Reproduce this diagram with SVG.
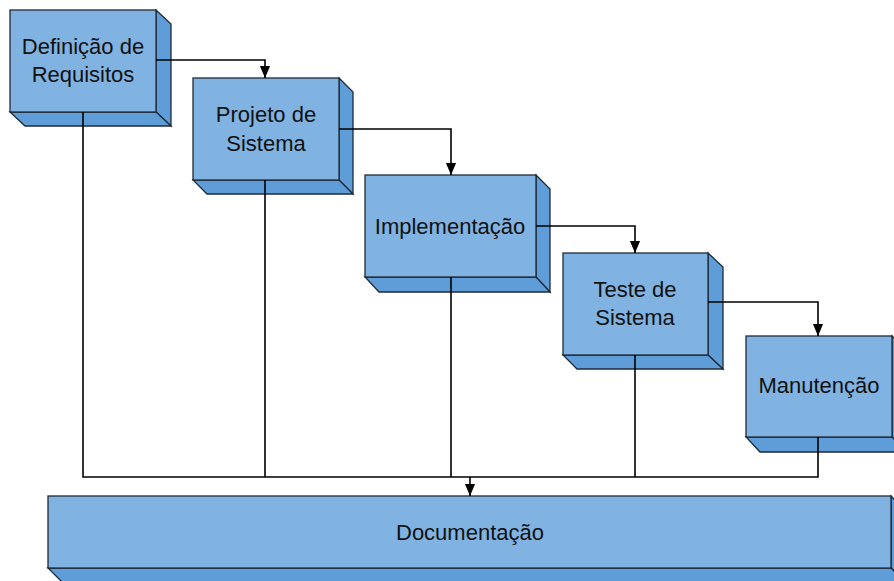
<svg xmlns="http://www.w3.org/2000/svg" width="894" height="581" viewBox="0 0 894 581">
<style>
.front{fill:#80B3E1;stroke:#1f2a36;stroke-width:1.3}
.side{fill:#5E9DD8;stroke:#1f2a36;stroke-width:1.3;stroke-linejoin:miter}
.lbl{font-family:"Liberation Sans",Arial,sans-serif;font-size:22px;fill:#111;text-anchor:middle}
.conn{fill:none;stroke:#000;stroke-width:1.6}
</style>
<defs>
<marker id="arr" markerUnits="userSpaceOnUse" markerWidth="12" markerHeight="13" viewBox="0 0 13 12" refX="13" refY="6" orient="auto">
<path d="M0,0.5 L13,6 L0,11.5 z" fill="#000"/>
</marker>
</defs>
<rect width="894" height="581" fill="#fff"/>
<g id="n1">
<polygon class="side" points="156,10 171,24 171,126 156,112"/>
<polygon class="side" points="10,112 156,112 171,126 25,126"/>
<rect class="front" x="10" y="10" width="146" height="102"/>
<text class="lbl" x="83" y="54">Definição de</text>
<text class="lbl" x="83" y="82">Requisitos</text>
</g>
<g id="n2">
<polygon class="side" points="339,78 353,92 353,194 339,180"/>
<polygon class="side" points="193,180 339,180 353,194 207,194"/>
<rect class="front" x="193" y="78" width="146" height="102"/>
<text class="lbl" x="266" y="122">Projeto de</text>
<text class="lbl" x="266" y="151">Sistema</text>
</g>
<g id="n3">
<polygon class="side" points="536,175 550,189 550,292 536,277"/>
<polygon class="side" points="365,277 536,277 550,292 379,292"/>
<rect class="front" x="365" y="175" width="171" height="102"/>
<text class="lbl" x="450" y="234">Implementação</text>
</g>
<g id="n4">
<polygon class="side" points="708,253 723,267 723,369 708,355"/>
<polygon class="side" points="563,355 708,355 723,369 577,369"/>
<rect class="front" x="563" y="253" width="145" height="102"/>
<text class="lbl" x="635" y="297">Teste de</text>
<text class="lbl" x="635" y="325">Sistema</text>
</g>
<g id="n5">
<polygon class="side" points="892,336 907,350 907,452 892,437"/>
<polygon class="side" points="746,437 892,437 907,452 760,452"/>
<rect class="front" x="746" y="336" width="146" height="101"/>
<text class="lbl" x="819" y="393">Manutenção</text>
</g>
<g id="n6">
<polygon class="side" points="891,496 905,510 905,582 891,568"/>
<polygon class="side" points="48,568 891,568 905,582 62,582"/>
<rect class="front" x="48" y="496" width="843" height="72"/>
<text class="lbl" x="470" y="540">Documentação</text>
</g>
<g id="connectors">
<polyline class="conn" points="156,60 265,60 265,78" marker-end="url(#arr)"/>
<polyline class="conn" points="339,129 451,129 451,175" marker-end="url(#arr)"/>
<polyline class="conn" points="536,226 635,226 635,253" marker-end="url(#arr)"/>
<polyline class="conn" points="708,302 818,302 818,336" marker-end="url(#arr)"/>
<polyline class="conn" points="83,112 83,477 818,477 818,437"/>
<line class="conn" x1="265" y1="180" x2="265" y2="477"/>
<line class="conn" x1="451" y1="277" x2="451" y2="477"/>
<line class="conn" x1="635" y1="355" x2="635" y2="477"/>
<line class="conn" x1="470" y1="477" x2="470" y2="496" marker-end="url(#arr)"/>
</g>
</svg>
